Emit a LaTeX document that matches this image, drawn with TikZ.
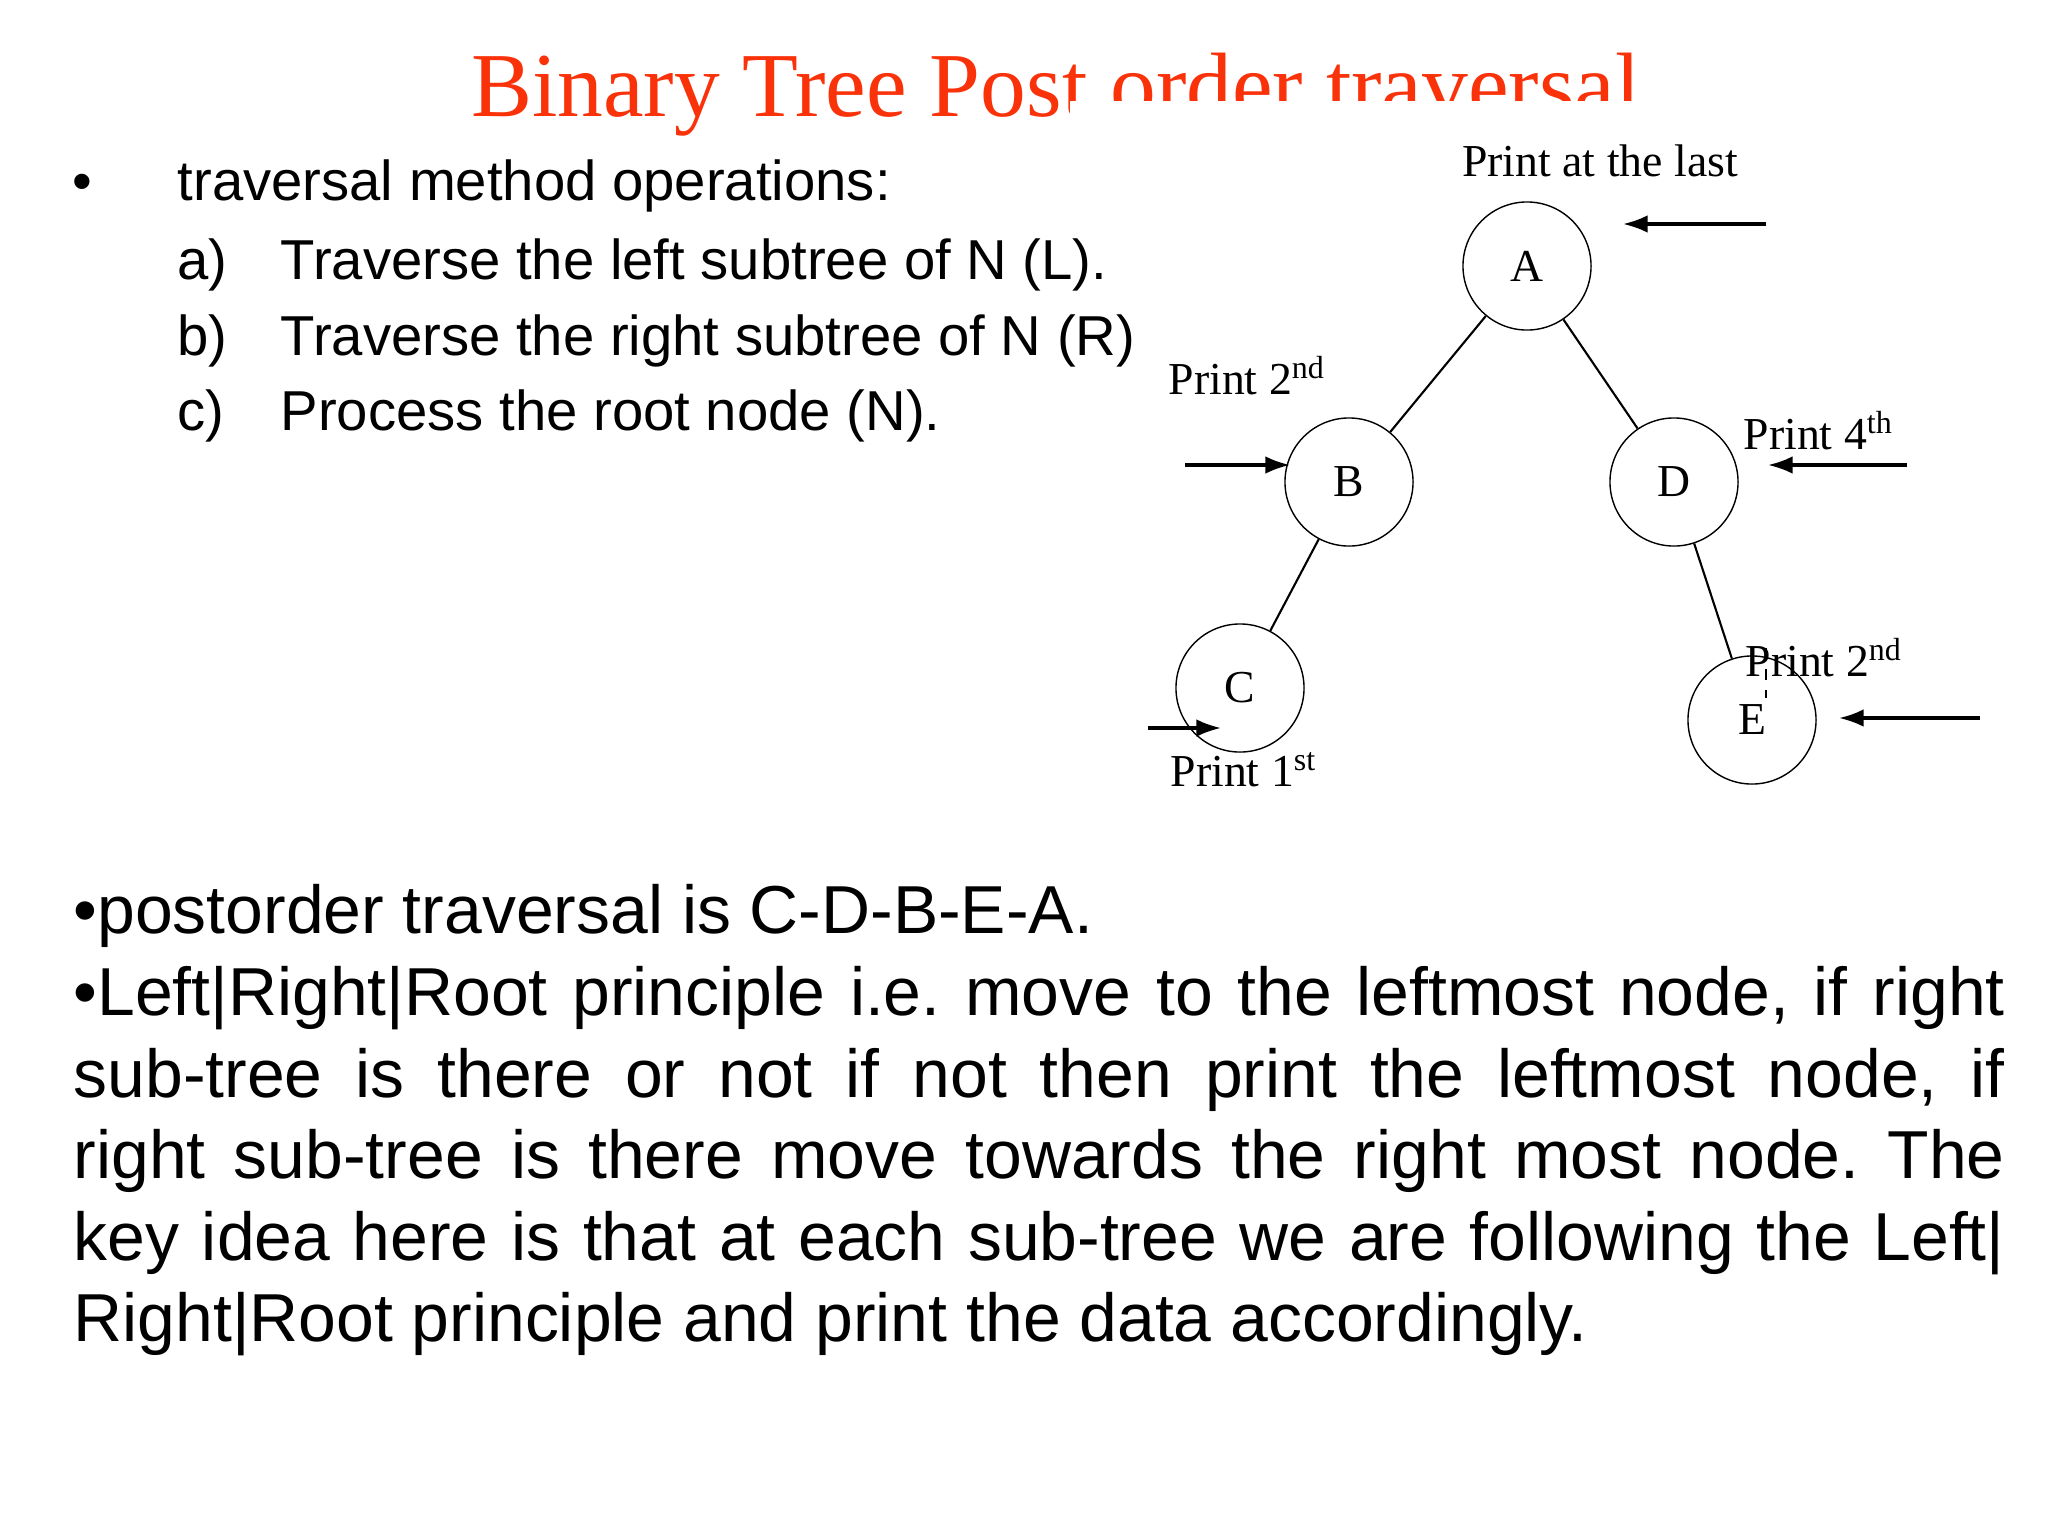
\documentclass[tikz,border=0pt]{standalone}
\usepackage{fontspec}
\setmainfont{Liberation Sans}
\newfontfamily\tms{Liberation Serif}
\usetikzlibrary{arrows.meta}
\definecolor{ttl}{RGB}{250,50,10}
\begin{document}
\begin{tikzpicture}[x=0.01cm,y=-0.01cm,
  tnode/.style={draw,circle,minimum size=1.28cm,inner sep=0pt,font=\tms\fontsize{13}{15}\selectfont},
  lbl/.style={font=\tms\fontsize{13}{15}\selectfont,inner sep=0pt,anchor=base west},
  arr/.style={-{Latex[length=7pt,width=5pt]},line width=0.9pt},
  edge/.style={line width=0.6pt}]
\useasboundingbox (0,0) rectangle (2048,1536);
\node[font=\tms\fontsize{26}{30}\selectfont,text=ttl,anchor=base,inner sep=0pt] (title) at (1056,116) {Binary Tree Post order traversal};
\fill[white] (1070,101) rectangle (1700,140);
% left list
\begin{scope}[every node/.style={anchor=base west,inner sep=0pt,font=\fontsize{16}{19}\selectfont}]
\node (b0) at (72,200) {•};
\node (t0) at (177,200) {traversal method operations:};
\node (la) at (177,279) {a)}; \node (ta) at (280,279) {Traverse the left subtree of N (L).};
\node (lb) at (177,355) {b)}; \node (tb) at (280,355) {Traverse the right subtree of N (R)};
\node (lc) at (177,430) {c)}; \node (tc) at (280,430) {Process the root node (N).};
\end{scope}
% tree
\node[tnode] (A) at (1527,266) {A};
\node[tnode] (B) at (1349,482) {B};
\node[tnode] (D) at (1674,482) {D};
\node[tnode] (C) at (1240,688) {C};
\node[tnode] (E) at (1752,720) {E};
\draw[edge] (A) -- (B);
\draw[edge] (A) -- (D);
\draw[edge] (B) -- (C);
\draw[edge] (D) -- (E);
\node[lbl,anchor=base] (pa) at (1600,176) {Print at the last};
\coordinate (sa) at (1766,224); \draw[arr] (sa) -- (1623,224);
\node[lbl] (pb) at (1168,394) {Print 2\textsuperscript{nd}};
\coordinate (sb) at (1185,465); \draw[arr] (sb) -- (1290,465);
\node[lbl] (pd) at (1743,449) {Print 4\textsuperscript{th}};
\coordinate (sd) at (1907,465); \draw[arr] (sd) -- (1768,465);
\node[lbl] (pc) at (1170,786) {Print 1\textsuperscript{st}};
\coordinate (sc) at (1148,728); \draw[arr] (sc) -- (1221,728);
\node[lbl] (pe) at (1745,676) {Print 2\textsuperscript{nd}};
\draw[dashed,line width=0.8pt] (1766,648) -- (1766,698);
\coordinate (se) at (1980,718); \draw[arr] (se) -- (1839,718);
% paragraph
\node[anchor=north west,inner sep=0pt,text width=19.3cm,align=justify,font=\fontsize{19.3}{23.2}\selectfont\frenchspacing] (para) at (73,884) {•postorder traversal is C-D-B-E-A.\\
•Left|Right|Root principle i.e. move to the leftmost node, if right\linebreak
sub-tree is there or not if not then print the leftmost node, if\linebreak
right sub-tree is there move towards the right most node. The\linebreak
key idea here is that at each sub-tree we are following the Left|\linebreak
Right|Root principle and print the data accordingly.};
\end{tikzpicture}
\end{document}
